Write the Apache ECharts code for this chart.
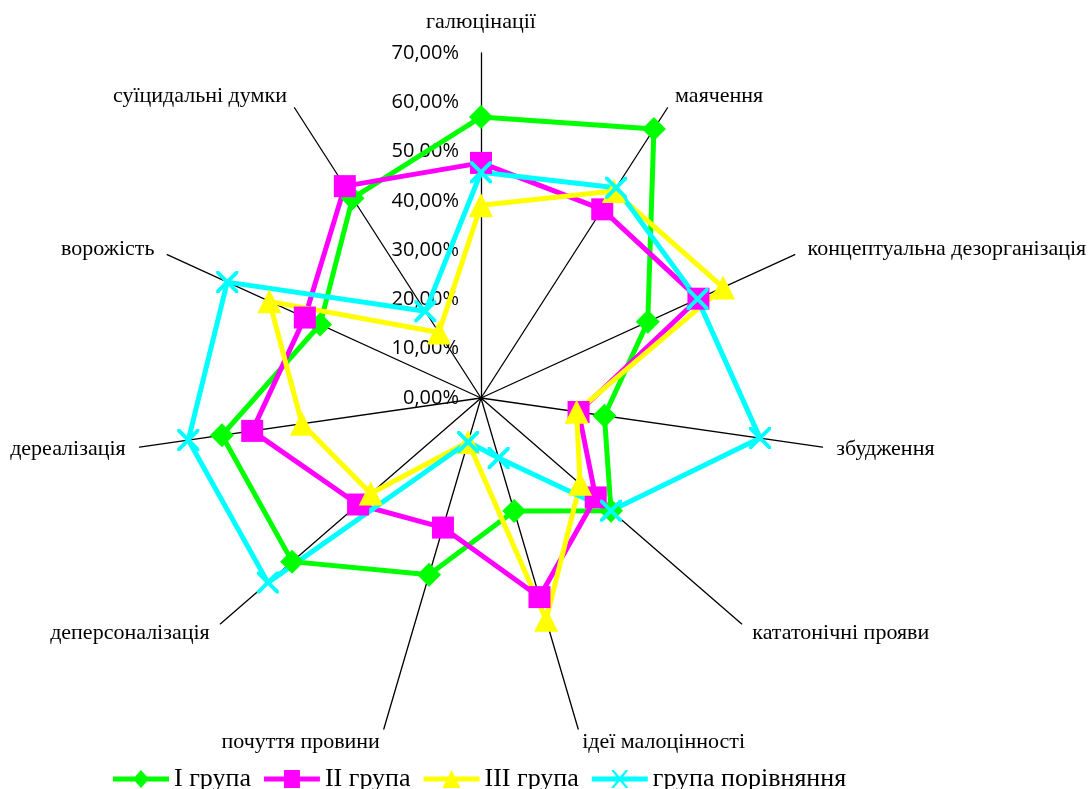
<!DOCTYPE html>
<html>
<head>
<meta charset="utf-8">
<script src="https://cdn.jsdelivr.net/npm/echarts@6/dist/echarts.min.js"></script>
<style>
  html, body { margin: 0; padding: 0; background: #fff; }
  #chart { width: 1088px; height: 789px; }
</style>
</head>
<body>
<div id="chart"></div>
<script>
// Symptom categories, listed clockwise starting from the top axis
const categories = [
  'галюцінації', 'маячення', 'концептуальна дезорганізація', 'збудження',
  'кататонічні прояви', 'ідеї малоцінності', 'почуття провини',
  'деперсоналізація', 'дереалізація', 'ворожість', 'суїцидальні думки'
];

// Share of patients per group, %, same order as categories
const group1 = [57.0, 64.9, 37.2, 25.3, 34.9, 23.9, 37.4, 50.7, 53.1, 35.9, 48.2];
const group2 = [47.7, 45.5, 48.5, 20.0, 30.8, 42.1, 27.4, 33.0, 46.9, 39.3, 51.1];
const group3 = [39.1, 49.9, 54.0, 19.6, 26.6, 46.9, 9.3, 29.6, 36.7, 47.2, 15.8];
const control = [45.8, 50.7, 48.3, 57.2, 34.9, 12.7, 9.3, 57.2, 60.0, 56.6, 20.9];

const seriesNames = ['І група', 'ІІ група', 'ІІІ група', 'група порівняння'];
const axisMax = 70;
const axisSplits = 7;

// ECharts lays radar indicators out counter-clockwise; keep the first one on top
// and reverse the rest so the categories run clockwise.
const toCcw = arr => [arr[0]].concat(arr.slice(1).reverse());

const pctLabel = v => Number(v).toFixed(2).replace('.', ',') + '%';

const indicator = toCcw(categories).map((name, i) => {
  const item = { name: name, min: 0, max: axisMax };
  if (i === 0) {
    // only the vertical axis carries the percentage scale
    item.nameGap = 20;
    item.axisLabel = {
      show: true,
      formatter: pctLabel,
      color: '#000',
      fontFamily: 'Open Sans',
      fontSize: 20,
      margin: 22
    };
  }
  return item;
});

// Marker shapes
const crossSymbol = 'path://M0,0L2.5,0L10,7.5L17.5,0L20,0L20,2.5L12.5,10L20,17.5L20,20L17.5,20L10,12.5L2.5,20L0,20L0,17.5L7.5,10L0,2.5Z';
const legendLine = 'M0,6.5L56,6.5L56,11.5L0,11.5Z';
const legendIcons = [
  'path://' + legendLine + 'M28,0L36,9L28,18L20,9Z',
  'path://' + legendLine + 'M20,0L36,0L36,18L20,18Z',
  'path://' + legendLine + 'M28,0L37,18L19,18Z',
  'path://' + legendLine + 'M20,0L22,0L28,7L34,0L36,0L36,1L29.5,9L36,17L36,18L34,18L28,11L22,18L20,18L20,17L26.5,9L20,1Z'
];

const palette = ['#00ff00', '#ff00ff', '#ffff00', '#00ffff'];
const symbols = ['diamond', 'rect', 'triangle', crossSymbol];
const symbolSizes = [24, 22, 24, 22];
const values = [group1, group2, group3, control];

const series = values.map((vals, i) => ({
  type: 'radar',
  name: seriesNames[i],
  symbol: symbols[i],
  symbolSize: symbolSizes[i],
  itemStyle: { color: palette[i] },
  lineStyle: { color: palette[i], width: 5 },
  data: [{ name: seriesNames[i], value: toCcw(vals) }]
}));

const chart = echarts.init(document.getElementById('chart'));
chart.setOption({
  animation: false,
  backgroundColor: '#fff',
  radar: {
    center: [481, 398],
    radius: 345,
    startAngle: 90,
    splitNumber: axisSplits,
    shape: 'polygon',
    indicator: indicator,
    axisName: {
      color: '#000',
      fontFamily: 'Liberation Serif',
      fontSize: 22
    },
    nameGap: 14,
    axisLine: { show: true, lineStyle: { color: '#000', width: 1.3 } },
    axisTick: { show: false },
    axisLabel: { show: false },
    splitLine: { show: false },
    splitArea: { show: false }
  },
  legend: {
    left: 108,
    top: 761,
    itemWidth: 56,
    itemHeight: 18,
    itemGap: 13,
    textStyle: { color: '#000', fontFamily: 'Liberation Serif', fontSize: 26 },
    data: seriesNames.map((n, i) => ({ name: n, icon: legendIcons[i] }))
  },
  series: series
});
</script>
</body>
</html>
